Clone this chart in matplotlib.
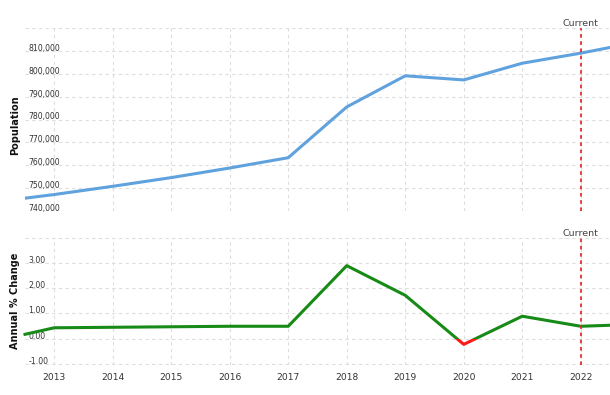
import matplotlib
matplotlib.use("Agg")
import matplotlib.pyplot as plt
from matplotlib.patches import Rectangle
import matplotlib.ticker as mticker

years = [2012.5, 2013, 2014, 2015, 2016, 2017, 2018, 2019, 2020, 2021, 2022, 2022.5]
population = [745600, 747200, 750800, 754600, 758800, 763300, 785500, 799100, 797300, 804600, 809000, 811500]
change = [0.17, 0.43, 0.45, 0.47, 0.49, 0.49, 2.90, 1.72, -0.23, 0.89, 0.49, 0.53]
year_ticks = list(range(2013, 2023))
pop_ticks = list(range(740000, 830000, 10000))
chg_ticks = [-1, 0, 1, 2, 3, 4]
current_year = 2022

fig = plt.figure(figsize=(6.1, 3.95), dpi=100)
ax1 = fig.add_axes([25/610, 184/395, 585/610, 183/395])
ax2 = fig.add_axes([25/610, 30/395, 585/610, 127/395])

grid_kw = dict(color="#dddddd", linestyle=(0, (3, 3)), linewidth=0.8)
tick_color = "#333333"

for ax in (ax1, ax2):
    ax.set_xlim(2012.5, 2022.5)
    ax.set_xticks(year_ticks)
    for s in ax.spines.values():
        s.set_visible(False)
    ax.grid(True, **grid_kw)
    ax.set_axisbelow(True)
    ax.tick_params(axis="both", length=0, colors=tick_color)
    ax.tick_params(axis="y", pad=-2.5, labelsize=5.6)
    ax.axvline(current_year, color="#e03030", linestyle=(0, (2, 2)), linewidth=1.3, zorder=5)
    ax.text(current_year, 1.0, "Current", transform=ax.get_xaxis_transform(),
            ha="center", va="bottom", fontsize=6.8, color="#444444")

# Top: population
ax1.plot(years, population, color="#5fa2dd", linewidth=2.2, zorder=4)
ax1.set_ylim(740000, 820000)
ax1.set_yticks(pop_ticks)
ax1.yaxis.set_major_formatter(mticker.FuncFormatter(lambda v, p: "" if v >= 820000 else f"{int(v):,}"))
ax1.set_xticklabels([])

# Bottom: annual % change
ax2.set_ylim(-1.05, 4.0)
ax2.set_yticks(chg_ticks)
ax2.yaxis.set_major_formatter(mticker.FuncFormatter(lambda v, p: "" if v >= 4 else f"{v:.2f}"))
ax2.tick_params(axis="x", labelsize=6.6, pad=6)
pos_line, = ax2.plot(years, change, color="#178a17", linewidth=2.2, zorder=4)
neg_line, = ax2.plot(years, change, color="#ff1a1a", linewidth=2.2, zorder=4)
pos_line.set_clip_path(Rectangle((2012, 0), 20, 10, transform=ax2.transData))
neg_line.set_clip_path(Rectangle((2012, -10), 20, 10, transform=ax2.transData))

for ax in (ax1, ax2):
    for lbl in ax.get_yticklabels():
        lbl.set_horizontalalignment("left")
        lbl.set_verticalalignment("baseline")

fig.text(15/610, 1 - 125/395, "Population", rotation=90, ha="center", va="center",
         fontsize=7, fontweight="bold", color="#111111")
fig.text(15/610, 1 - 301/395, "Annual % Change", rotation=90, ha="center", va="center",
         fontsize=7, fontweight="bold", color="#111111")

fig.savefig("out.png", dpi=100)
